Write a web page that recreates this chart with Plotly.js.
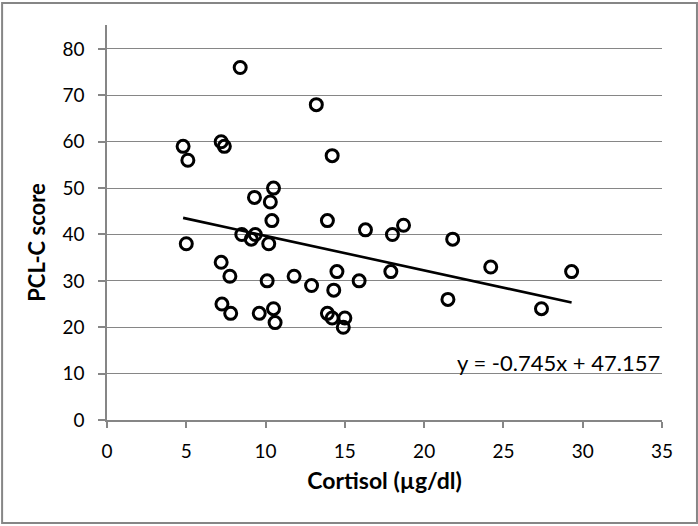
<!DOCTYPE html>
<html>
<head>
<meta charset="utf-8">
<script src="https://cdn.plot.ly/plotly-3.0.1.min.js"></script>
<style>
  html, body { margin: 0; padding: 0; background: #fff; }
  #plot1 { width: 698px; height: 526px; }
</style>
</head>
<body>
<div id="plot1"></div>
<script>
  // cortisol (x) vs PCL-C score (y)
  var cortisol = [8.4, 13.2, 4.8, 5.1, 7.2, 7.4, 14.2, 10.5, 9.3, 10.3,
                  10.4, 13.9, 16.3, 18.0, 18.7, 5.0, 8.5, 9.1, 9.35, 10.2,
                  7.2, 7.75, 10.1, 11.8, 12.9, 14.5, 14.3, 15.9, 17.9, 7.25,
                  7.8, 9.6, 10.5, 10.6, 13.9, 14.2, 15.0, 14.9, 21.8, 24.2,
                  29.3, 21.5, 27.4];
  var pclScore = [76, 68, 59, 56, 60, 59, 57, 50, 48, 47,
                  43, 43, 41, 40, 42, 38, 40, 39, 40, 38,
                  34, 31, 30, 31, 29, 32, 28, 30, 32, 25,
                  23, 23, 24, 21, 23, 22, 22, 20, 39, 33,
                  32, 26, 24];

  // linear trend as printed on the chart
  var slope = -0.745;
  var intercept = 47.157;

  var xMin = Math.min.apply(null, cortisol);
  var xMax = Math.max.apply(null, cortisol);
  var trendX = [xMin, xMax];
  var trendY = trendX.map(function (v) { return slope * v + intercept; });

  var points = {
    x: cortisol,
    y: pclScore,
    mode: 'markers',
    type: 'scatter',
    marker: {symbol: 'circle-open', size: 12, color: '#000', line: {width: 3}},
    hoverinfo: 'x+y'
  };

  var trend = {
    x: trendX,
    y: trendY,
    mode: 'lines',
    type: 'scatter',
    line: {color: '#000', width: 2.6},
    hoverinfo: 'skip'
  };

  var grey = '#868686';
  var font = 'Lato, "Open Sans", "DejaVu Sans", sans-serif';

  var layout = {
    width: 698,
    height: 526,
    showlegend: false,
    paper_bgcolor: '#fff',
    plot_bgcolor: '#fff',
    margin: {l: 107, r: 36, t: 25, b: 106},
    font: {family: font, color: '#000', size: 19},
    xaxis: {
      range: [0, 35],
      dtick: 5,
      showgrid: false,
      zeroline: false,
      showline: true,
      linecolor: grey,
      linewidth: 1.5,
      ticks: 'outside',
      ticklen: 6,
      tickwidth: 1.5,
      tickcolor: grey,
      ticklabelstandoff: 7,
      tickfont: {size: 19},
      title: {text: 'Cortisol (µg/dl)', font: {size: 23, weight: 'bold'}, standoff: 12}
    },
    yaxis: {
      range: [0, 85.17],
      tickvals: [0, 10, 20, 30, 40, 50, 60, 70, 80],
      showgrid: true,
      gridcolor: grey,
      gridwidth: 1.4,
      zeroline: false,
      showline: true,
      linecolor: grey,
      linewidth: 1.5,
      ticks: 'outside',
      ticklen: 7,
      tickwidth: 1.5,
      tickcolor: grey,
      ticklabelstandoff: 10,
      tickfont: {size: 19}
    },
    annotations: [{
      xref: 'x', yref: 'y',
      x: 35, y: 12.4,
      xanchor: 'right', yanchor: 'middle',
      showarrow: false,
      text: 'y = -0.745x + 47.157',
      font: {size: 22}
    }, {
      // y-axis title, sits a bit below the plot centre as in the original
      xref: 'paper', yref: 'paper',
      x: -0.127, y: 0.45,
      xanchor: 'center', yanchor: 'middle',
      textangle: -90,
      showarrow: false,
      text: 'PCL-C score',
      font: {size: 22, weight: 'bold'}
    }],
    shapes: [{
      type: 'rect', xref: 'paper', yref: 'paper', layer: 'above',
      x0: -0.189, x1: 1.063, y0: -0.261, y1: 1.0557,
      line: {color: grey, width: 2}
    }]
  };

  Plotly.newPlot('plot1', [points, trend], layout, {displayModeBar: false});
</script>
</body>
</html>
